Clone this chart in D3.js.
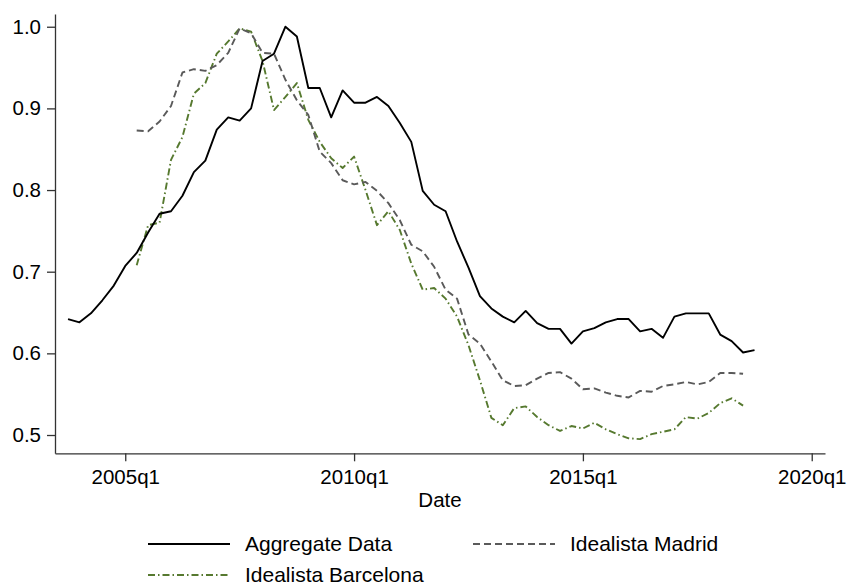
<!DOCTYPE html>
<html>
<head>
<meta charset="utf-8">
<script src="https://cdn.jsdelivr.net/npm/d3@7"></script>
<style>
  body { margin: 0; background: #fff; }
  svg { display: block; font-family: "Liberation Sans", Arial, Helvetica, sans-serif; }
</style>
</head>
<body>
<div id="graph"></div>
<script>
// quarterly dates, 2003q4 .. 2018q4
const quarters = [
  "2003q4",
  "2004q1","2004q2","2004q3","2004q4",
  "2005q1","2005q2","2005q3","2005q4",
  "2006q1","2006q2","2006q3","2006q4",
  "2007q1","2007q2","2007q3","2007q4",
  "2008q1","2008q2","2008q3","2008q4",
  "2009q1","2009q2","2009q3","2009q4",
  "2010q1","2010q2","2010q3","2010q4",
  "2011q1","2011q2","2011q3","2011q4",
  "2012q1","2012q2","2012q3","2012q4",
  "2013q1","2013q2","2013q3","2013q4",
  "2014q1","2014q2","2014q3","2014q4",
  "2015q1","2015q2","2015q3","2015q4",
  "2016q1","2016q2","2016q3","2016q4",
  "2017q1","2017q2","2017q3","2017q4",
  "2018q1","2018q2","2018q3","2018q4"
];

// 2003q4 .. 2018q4
const aggregate = [
  0.642,
  0.638, 0.649, 0.665, 0.683,
  0.707, 0.723, 0.748, 0.771,
  0.774, 0.793, 0.822, 0.836,
  0.874, 0.889, 0.885, 0.900,
  0.958, 0.967, 1.000, 0.988,
  0.925, 0.925, 0.889, 0.922,
  0.907, 0.907, 0.914, 0.903,
  0.882, 0.859, 0.799, 0.782,
  0.774, 0.737, 0.705, 0.670,
  0.655, 0.645, 0.638, 0.652,
  0.637, 0.630, 0.630, 0.612,
  0.627, 0.631, 0.638, 0.642,
  0.642, 0.627, 0.630, 0.619,
  0.645, 0.649, 0.649, 0.649,
  0.623, 0.615, 0.601, 0.604
];

// 2005q2 .. 2018q3
const madrid = [
  0.873, 0.872, 0.884, 0.903,
  0.944, 0.948, 0.946, 0.953,
  0.968, 0.998, 0.992, 0.968,
  0.967, 0.935, 0.910, 0.892,
  0.847, 0.833, 0.812, 0.807,
  0.810, 0.799, 0.784, 0.763,
  0.733, 0.725, 0.706, 0.678,
  0.667, 0.623, 0.612, 0.590,
  0.567, 0.560, 0.561, 0.569,
  0.576, 0.577, 0.569, 0.556,
  0.557, 0.552, 0.548, 0.546,
  0.554, 0.553, 0.560, 0.562,
  0.565, 0.562, 0.565, 0.576,
  0.576, 0.575
];

// 2005q2 .. 2018q3
const barcelona = [
  0.708, 0.757, 0.760, 0.837,
  0.865, 0.918, 0.931, 0.967,
  0.982, 0.998, 0.994, 0.958,
  0.898, 0.914, 0.931, 0.886,
  0.859, 0.839, 0.827, 0.841,
  0.800, 0.757, 0.774, 0.751,
  0.710, 0.678, 0.680, 0.667,
  0.645, 0.610, 0.567, 0.521,
  0.512, 0.533, 0.535, 0.522,
  0.512, 0.505, 0.511, 0.508,
  0.515, 0.507, 0.501, 0.496,
  0.495, 0.501, 0.504, 0.507,
  0.522, 0.520, 0.527, 0.539,
  0.545, 0.536
];

const xTicks = ["2005q1", "2010q1", "2015q1", "2020q1"];
const yTicks = [0.5, 0.6, 0.7, 0.8, 0.9, 1.0];
const seriesNames = ["Aggregate Data", "Idealista Madrid", "Idealista Barcelona"];

const w = 847;
const h = 586;

// "2005q3" -> 2005.5
const qnum = (s) => +s.slice(0, 4) + (+s.slice(5) - 1) / 4;

const xScale = d3.scaleLinear()
                 .domain([2003.465, 2020.29])
                 .range([55, 825]);

const yScale = d3.scaleLinear()
                 .domain([0.4776, 1.0156])
                 .range([453.3, 14]);

const svg = d3.select("#graph")
              .append("svg")
              .attr("width", w)
              .attr("height", h);

const xAxis = d3.axisBottom(xScale)
                .tickValues(xTicks.map(qnum))
                .tickFormat((d, i) => xTicks[i])
                .tickSizeInner(8)
                .tickSizeOuter(0)
                .tickPadding(8);

const yAxis = d3.axisLeft(yScale)
                .tickValues(yTicks)
                .tickFormat(d3.format(".1f"))
                .tickSizeInner(8)
                .tickSizeOuter(0)
                .tickPadding(6);

const gx = svg.append("g")
   .attr("transform", "translate(0," + 453.3 + ")")
   .call(xAxis);

const gy = svg.append("g")
   .attr("transform", "translate(55,0)")
   .call(yAxis);

[gx, gy].forEach(g => {
  g.select(".domain").attr("stroke", "#333").attr("stroke-width", 1.3);
  g.selectAll(".tick line").attr("stroke", "#333").attr("stroke-width", 1.3);
  g.selectAll(".tick text").attr("fill", "#000").style("font-size", "20.5px").style("font-family", "Liberation Sans, Arial, sans-serif");
});

svg.append("text")
   .attr("x", 440)
   .attr("y", 507)
   .attr("text-anchor", "middle")
   .style("font-size", "20.5px")
   .text("Date");

const styles = [
  { color: "#000000", dash: null, width: 1.9 },
  { color: "#5a5a5a", dash: "7,4", width: 1.9 },
  { color: "#56792f", dash: "7,3,1.5,3", width: 1.9 }
];

const line = d3.line()
               .x(d => xScale(qnum(d.q)))
               .y(d => yScale(d.v));

const series = [
  aggregate.map((v, i) => ({ q: quarters[i], v })),
  madrid.map((v, i) => ({ q: quarters[i + 6], v })),
  barcelona.map((v, i) => ({ q: quarters[i + 6], v }))
];

// draw Barcelona first, aggregate on top
[2, 1, 0].forEach(i => {
  svg.append("path")
     .datum(series[i])
     .attr("fill", "none")
     .attr("stroke", styles[i].color)
     .attr("stroke-width", styles[i].width)
     .attr("stroke-dasharray", styles[i].dash)
     .attr("stroke-linejoin", "round")
     .attr("d", line);
});

// legend
const legendPos = [
  { x: 148, y: 544 },
  { x: 473, y: 544 },
  { x: 148, y: 575 }
];

seriesNames.forEach((name, i) => {
  const p = legendPos[i];
  svg.append("line")
     .attr("x1", p.x).attr("x2", p.x + 82)
     .attr("y1", p.y).attr("y2", p.y)
     .attr("stroke", styles[i].color)
     .attr("stroke-width", styles[i].width)
     .attr("stroke-dasharray", styles[i].dash);
  svg.append("text")
     .attr("x", p.x + 97)
     .attr("y", p.y + 6.5)
     .style("font-size", "21px")
     .text(name);
});
</script>
</body>
</html>
